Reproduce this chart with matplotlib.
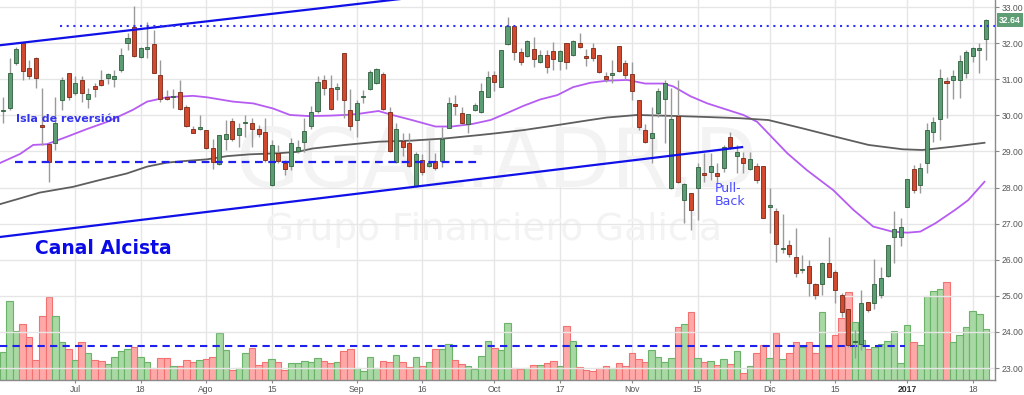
import numpy as np
import matplotlib
matplotlib.use("Agg")
import matplotlib.pyplot as plt
import matplotlib.transforms as mtransforms

# ---------------- data (GGAL ADR, daily, Jun 16 2016 - Jan 20 2017) ----------------
opens = [
    30.12, 30.20, 31.45, 32.00, 31.31, 31.59, 29.73, 29.20, 29.23, 30.42,
    31.17, 30.62, 30.98, 30.45, 30.81, 30.98, 31.03, 31.00, 31.26, 32.00,
    32.45, 31.61, 31.84, 31.98, 31.12, 30.50, 30.51, 30.65, 30.23, 29.62,
    29.62, 29.59, 29.09, 28.65, 29.34, 29.84, 29.45, 29.79, 29.79, 29.62,
    29.54, 28.07, 28.96, 28.68, 28.60, 29.00, 29.27, 29.70, 30.12, 30.98,
    30.75, 30.72, 31.72, 30.15, 29.87, 30.50, 30.74, 30.89, 31.14, 30.08,
    28.70, 29.30, 29.24, 28.05, 28.76, 28.61, 28.74, 28.74, 29.66, 30.30,
    30.06, 29.76, 30.15, 30.08, 30.52, 31.12, 30.79, 31.98, 32.47, 31.76,
    31.65, 31.84, 31.49, 31.67, 31.78, 31.50, 31.99, 31.67, 31.99, 31.64,
    31.86, 31.67, 31.09, 31.12, 31.92, 31.44, 31.14, 30.42, 29.59, 29.36,
    30.07, 30.44, 27.98, 29.98, 27.65, 27.86, 27.98, 28.41, 28.44, 28.39,
    28.53, 29.39, 28.88, 28.81, 28.50, 28.61, 28.60, 27.47, 27.36, 26.30,
    26.41, 26.08, 25.72, 25.83, 25.34, 25.33, 25.90, 25.67, 25.02, 24.65,
    23.72, 23.68, 24.83, 24.81, 25.02, 25.55, 26.62, 26.64, 27.47, 28.50,
    28.06, 28.69, 29.53, 29.90, 30.95, 30.98, 30.98, 31.16, 31.65, 31.80,
    32.11]

highs = [
    30.50, 31.59, 31.90, 32.03, 31.53, 31.61, 30.76, 29.20, 30.50, 31.06,
    31.17, 31.09, 31.09, 30.76, 30.90, 31.26, 31.17, 31.26, 31.86, 32.28,
    33.03, 31.89, 32.58, 32.36, 31.53, 30.70, 30.73, 30.98, 30.29, 29.70,
    30.00, 29.60, 29.34, 29.45, 29.87, 29.92, 29.79, 30.00, 29.92, 29.73,
    29.92, 29.32, 29.18, 28.76, 29.37, 29.32, 29.92, 30.25, 31.09, 31.12,
    31.12, 30.89, 31.72, 30.72, 30.42, 30.70, 31.26, 31.30, 31.21, 30.22,
    29.80, 29.52, 29.50, 28.99, 28.93, 29.32, 28.95, 29.69, 30.52, 30.56,
    30.24, 30.04, 30.33, 30.89, 31.23, 31.24, 31.81, 32.71, 32.47, 31.86,
    32.09, 32.18, 31.81, 31.81, 32.04, 31.81, 32.01, 32.09, 32.27, 31.83,
    31.99, 31.67, 31.21, 31.53, 31.92, 31.53, 31.49, 30.42, 29.76, 30.24,
    30.75, 30.98, 30.75, 30.98, 28.12, 27.86, 28.67, 28.95, 28.95, 28.67,
    29.18, 29.55, 29.18, 28.99, 28.99, 28.67, 28.60, 27.98, 27.42, 27.26,
    26.56, 26.87, 26.13, 25.99, 25.36, 25.95, 26.64, 25.72, 25.07, 24.65,
    24.05, 25.16, 24.84, 26.01, 25.81, 26.41, 27.36, 27.15, 28.24, 28.62,
    28.67, 29.80, 29.96, 31.27, 31.07, 31.26, 31.67, 31.81, 31.90, 32.01,
    32.66]

lows = [
    29.80, 30.15, 31.40, 30.98, 31.00, 30.75, 29.18, 28.15, 29.04, 30.15,
    30.42, 30.56, 30.37, 30.20, 30.50, 30.81, 30.87, 30.78, 31.20, 31.81,
    31.61, 31.59, 31.59, 31.17, 30.37, 30.42, 30.20, 30.15, 29.68, 29.50,
    29.60, 29.08, 28.51, 28.62, 29.04, 29.30, 29.12, 29.40, 29.12, 29.40,
    28.70, 28.04, 28.68, 28.35, 28.48, 28.96, 28.99, 29.62, 30.06, 30.56,
    30.15, 30.42, 29.92, 29.59, 29.41, 30.33, 30.70, 30.87, 30.15, 28.99,
    28.67, 28.86, 28.58, 28.02, 28.35, 28.58, 28.48, 28.58, 29.64, 30.01,
    29.76, 29.50, 30.13, 30.06, 30.52, 30.66, 30.78, 31.95, 31.53, 31.39,
    31.62, 31.35, 31.44, 31.18, 31.26, 31.26, 31.27, 31.64, 31.86, 31.37,
    31.51, 31.18, 30.93, 30.89, 31.21, 30.98, 30.42, 29.59, 29.24, 28.67,
    29.96, 29.22, 27.95, 28.12, 27.01, 26.82, 27.10, 28.16, 28.21, 28.12,
    28.44, 29.08, 28.39, 28.39, 28.48, 28.12, 27.15, 26.73, 25.95, 26.18,
    26.08, 25.53, 25.64, 24.99, 24.90, 25.02, 25.51, 24.79, 24.42, 23.59,
    23.27, 23.50, 24.56, 24.65, 24.93, 25.53, 25.90, 26.38, 27.47, 27.86,
    27.84, 28.39, 29.27, 29.32, 29.92, 30.44, 30.49, 31.02, 31.49, 31.16,
    31.53]

closes = [
    30.15, 31.17, 31.84, 31.23, 31.09, 31.03, 29.67, 28.70, 29.79, 30.98,
    30.50, 30.90, 30.62, 30.59, 30.73, 30.84, 31.14, 31.09, 31.67, 32.14,
    31.64, 31.86, 31.89, 31.17, 30.45, 30.45, 30.53, 30.17, 29.70, 29.51,
    29.68, 29.09, 28.71, 29.45, 29.48, 29.34, 29.65, 29.82, 29.62, 29.48,
    28.76, 29.18, 28.73, 28.51, 29.23, 29.12, 29.57, 30.10, 30.91, 30.77,
    30.17, 30.78, 30.42, 29.71, 30.33, 30.53, 31.19, 31.27, 30.17, 29.02,
    29.61, 29.13, 28.61, 28.92, 28.44, 28.69, 28.53, 29.35, 30.34, 30.27,
    29.78, 30.03, 30.28, 30.66, 31.07, 30.93, 31.81, 32.47, 31.76, 31.49,
    32.06, 31.55, 31.67, 31.35, 31.56, 31.78, 31.47, 32.06, 31.90, 31.58,
    31.58, 31.21, 31.00, 31.18, 31.24, 31.12, 30.66, 29.69, 29.27, 29.50,
    30.68, 30.89, 29.89, 28.16, 28.10, 27.38, 28.58, 28.36, 28.60, 28.32,
    29.13, 29.11, 28.99, 28.67, 28.78, 28.21, 27.17, 27.52, 26.43, 26.33,
    26.16, 25.64, 25.74, 25.36, 25.02, 25.90, 25.53, 25.16, 24.56, 23.64,
    23.74, 24.81, 24.61, 25.32, 25.50, 26.41, 26.84, 26.90, 28.24, 27.93,
    28.55, 29.59, 29.81, 31.02, 30.89, 31.09, 31.51, 31.76, 31.87, 31.86,
    32.64]

volumes = [  # thousands of shares
    280, 790, 490, 560, 430, 200, 640, 830, 640, 380,
    310, 200, 380, 270, 200, 190, 160, 230, 290, 310,
    330, 230, 180, 120, 220, 220, 140, 140, 200, 180,
    200, 210, 230, 470, 300, 100, 120, 270, 320, 150,
    180, 210, 180, 100, 170, 170, 190, 180, 220, 190,
    170, 180, 290, 310, 120, 90, 230, 120, 190, 180,
    250, 180, 130, 230, 140, 180, 310, 310, 360, 200,
    160, 140, 110, 240, 390, 320, 300, 570, 120, 110,
    120, 150, 150, 170, 190, 140, 540, 390, 130, 100,
    90, 120, 140, 120, 170, 140, 270, 210, 180, 300,
    230, 180, 220, 530, 560, 680, 220, 180, 190, 150,
    210, 160, 290, 70, 140, 270, 350, 220, 470, 210,
    270, 380, 330, 380, 270, 680, 330, 450, 620, 880,
    580, 400, 310, 330, 360, 390, 490, 170, 550, 380,
    350, 840, 890, 910, 980, 380, 450, 530, 690, 660,
    510]

# moving averages (bar index, price)
ma_short_idx = [-0.46, 2.6, 4.6, 6.7, 9.8, 12.8, 15.9, 19.8, 22.0, 25.0, 29.0, 31.1, 35.1,
                38.2, 41.2, 43.8, 46.6, 49.6, 52.2, 54.2, 57.3, 59.4, 62.4, 66.0, 68.5,
                71.6, 74.4, 76.9, 79.4, 82.0, 84.6, 87.0, 89.6, 92.2, 95.3, 98.0, 100.8,
                102.3, 104.9, 107.5, 109.9, 113.0, 115.1, 119.7, 122.7, 126.7, 129.8,
                132.8, 135.7, 138.0, 140.0, 142.3, 145.3, 147.3, 149.8]
ma_short_val = [28.68, 28.93, 29.18, 29.20, 29.41, 29.62, 29.82, 30.15, 30.38, 30.50, 30.54,
                30.50, 30.38, 30.33, 30.19, 30.01, 29.98, 29.99, 30.01, 30.04, 30.12, 30.01,
                29.87, 29.69, 29.69, 29.76, 29.87, 30.06, 30.26, 30.44, 30.56, 30.78, 30.90,
                30.96, 30.98, 30.88, 30.88, 30.80, 30.53, 30.33, 30.19, 30.01, 29.82, 28.95,
                28.48, 27.93, 27.38, 26.92, 26.78, 26.75, 26.78, 27.01, 27.38, 27.65, 28.16]

ma_long_idx = [-0.46, 2.6, 5.6, 10.7, 14.8, 18.9, 22.0, 25.0, 28.1, 31.1, 34.2, 37.7, 42.0,
               45.0, 47.2, 52.2, 57.3, 62.4, 67.5, 72.5, 75.1, 79.4, 84.6, 89.6, 92.2,
               96.8, 102.9, 106.4, 112.5, 116.8, 122.0, 127.0, 132.1, 137.3, 140.3,
               144.9, 149.8]
ma_long_val = [27.54, 27.70, 27.86, 28.02, 28.21, 28.39, 28.58, 28.69, 28.74, 28.78, 28.87,
               28.92, 28.95, 28.99, 29.08, 29.18, 29.27, 29.30, 29.36, 29.45, 29.50, 29.59,
               29.73, 29.87, 29.94, 30.01, 29.98, 29.96, 29.92, 29.87, 29.64, 29.41, 29.18,
               29.06, 29.04, 29.13, 29.24]

# x tick labels (bar index of the labelled session)
tick_idx = [11, 21, 31, 41, 54, 64, 75, 85, 96, 106, 117, 127, 138, 148]
tick_lbl = ["Jul", "18", "Ago", "15", "Sep", "16", "Oct", "17", "Nov", "15", "Dic", "15",
            "2017", "18"]

# drawn annotations (bar index, price)
upper_channel = ([-0.5, 62.0], [31.94, 33.25])
lower_channel = ([-0.5, 112.8], [26.63, 29.12])
support_level = 28.72
support_span = (1.8, 72.8)
resistance_level = 32.47
resistance_start = 8.7
volume_avg = 340
volume_avg_end = 137.7
last_price = 32.64

# ---------------- figure ----------------
fig = plt.figure(figsize=(10.24, 3.95), dpi=100)
ax = fig.add_axes([0, 15 / 395, 995 / 1024, 380 / 395])
axv = ax.twinx()
ax.set_zorder(axv.get_zorder() + 1)
ax.patch.set_visible(False)
axv.patch.set_facecolor("white")

n = len(closes)
x = np.arange(n)
o = np.array(opens); c = np.array(closes); h = np.array(highs); l = np.array(lows)
up = c >= o

xmin, xmax = -0.46, 151.4
ax.set_xlim(xmin, xmax)
axv.set_xlim(xmin, xmax)
ax.set_ylim(22.67, 33.194)
axv.set_ylim(0, 3800)

# grid
for t in tick_idx:
    axv.axvline(t, color="#e6e6e6", lw=1, zorder=0)
ax.set_yticks(range(23, 34))
ax.grid(axis="y", color="#e6e6e6", lw=1, zorder=0)
ax.set_axisbelow(True)

# watermark
ax.text(0.4985, 0.508, "GGAL:ADR,D", transform=ax.transAxes, ha="center", va="baseline",
        fontsize=59, color="#f3f3f3", zorder=0.5)
ax.text(0.4955, 0.368, "Grupo Financiero Galicia", transform=ax.transAxes, ha="center",
        va="baseline", fontsize=27, color="#f3f3f3", zorder=0.5)

# volume
vcol = np.where(up, "#a8d8a3", "#ffa8a8")
vedge = np.where(up, "#6cb36a", "#f27272")
axv.bar(x, volumes, width=1.0, color=vcol, edgecolor=vedge, linewidth=0.8, zorder=1)
axv.plot([xmin, volume_avg_end], [volume_avg, volume_avg], color="#2020ee", lw=1.5,
         ls=(0, (3.5, 2.5)), zorder=2)
axv.set_yticks([])
for s in axv.spines.values():
    s.set_visible(False)

# moving averages
ax.plot(ma_short_idx, ma_short_val, color="#b65cf2", lw=1.3, zorder=2)
ax.plot(ma_long_idx, ma_long_val, color="#5e5e5e", lw=1.3, zorder=2)

# candles
ax.vlines(x, l, h, color="#9a9a9a", lw=1.0, zorder=3)
body_bottom = np.minimum(o, c)
body_h = np.maximum(np.abs(c - o), 0.03)
ax.bar(x, body_h, bottom=body_bottom, width=0.62,
       color=np.where(up, "#5c9c72", "#d3492e"),
       edgecolor=np.where(up, "#2e5e3d", "#7a2716"), linewidth=0.6, zorder=4)

# channel and levels
ax.plot(*upper_channel, color="#1010e8", lw=1.6, zorder=5)
ax.plot(*lower_channel, color="#1010e8", lw=1.6, zorder=5)
ax.plot(support_span, [support_level] * 2, color="#2020ee", lw=1.6,
        ls=(0, (3.5, 2.5)), zorder=5)
ax.plot([resistance_start, xmax], [resistance_level] * 2, color="#3030ff", lw=1.5,
        ls=(0, (1, 2.2)), zorder=5)

# annotations
ax.text(2.0, 29.90, "Isla de reversión", color="#3434ee", fontsize=8, fontweight="bold",
        ha="left", va="center", zorder=6)
ax.text(4.9, 26.32, "Canal Alcista", color="#0a0ae6", fontsize=13.5, fontweight="bold",
        ha="left", va="center", zorder=6)
ax.text(108.7, 27.79, "Pull-\nBack", color="#4a4aff", fontsize=9, ha="left", va="center",
        linespacing=1.0, zorder=6)

# axes styling
ax.yaxis.tick_right()
ax.set_yticklabels([f"{v:.2f}" for v in range(23, 34)])
ax.tick_params(axis="y", length=3, width=0.8, color="#888888", pad=2, labelsize=6.2,
               labelcolor="#555555", labelfontfamily="Liberation Sans")
ax.set_xticks(tick_idx)
ax.set_xticklabels(tick_lbl)
ax.tick_params(axis="x", length=2.5, width=0.8, color="#888888", pad=1, labelsize=6.2,
               labelcolor="#555555", labelfontfamily="Liberation Sans")
for lab in ax.get_xticklabels():
    if lab.get_text() == "2017":
        lab.set_fontweight("bold")
        lab.set_color("#333333")
for side in ("top", "left"):
    ax.spines[side].set_visible(False)
for side in ("right", "bottom"):
    ax.spines[side].set_color("#8a8a8a")
    ax.spines[side].set_linewidth(1)

# last price tag
trans = mtransforms.blended_transform_factory(ax.transAxes, ax.transData)
ax.text(1.004, last_price, f"{last_price:.2f}", transform=trans, ha="left", va="center",
        fontsize=6.2, color="white", fontweight="bold", family="Liberation Sans",
        bbox=dict(boxstyle="square,pad=0.25", facecolor="#5f9e74", edgecolor="none"),
        zorder=10, clip_on=False)

fig.savefig("out.png", dpi=100)
